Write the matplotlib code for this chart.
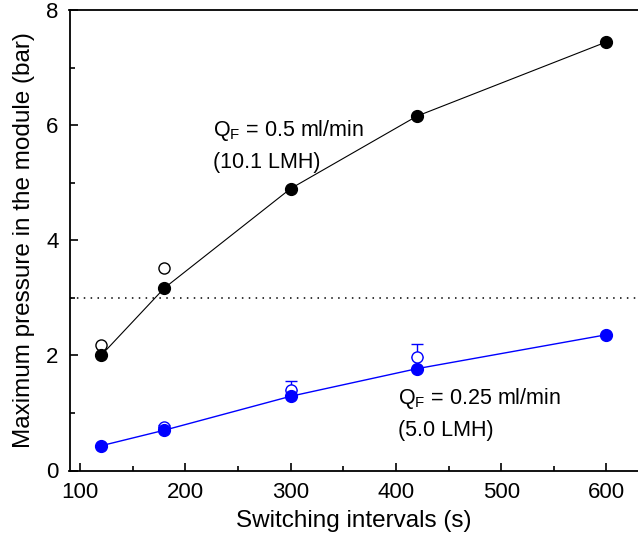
import numpy as np
import matplotlib.pyplot as plt
from matplotlib.ticker import MultipleLocator

plt.rcParams["font.family"] = "Liberation Sans"
plt.rcParams["font.size"] = 16
plt.rcParams["mathtext.fontset"] = "custom"
plt.rcParams["mathtext.rm"] = "Liberation Sans"
plt.rcParams["mathtext.it"] = "Liberation Sans"

# switching intervals (s)
t_int = [120, 180, 300, 420, 600]

# QF = 0.5 ml/min
p_high = [2.00, 3.17, 4.90, 6.16, 7.45]
t_high_open = [120, 180]
p_high_open = [2.18, 3.52]

# QF = 0.25 ml/min
p_low = [0.43, 0.70, 1.29, 1.77, 2.36]
t_low_open = [180, 300, 420]
p_low_open = [0.76, 1.40, 1.97]
err_low_open = [0.03, 0.16, 0.23]

threshold = 3.0

fig = plt.figure(figsize=(6.38, 5.39), dpi=100)
ax = fig.add_axes([69.5 / 638, 68.5 / 539, (638 - 69.5) / 638, (470.5 - 10.3) / 539])

ax.axhline(threshold, color="black", linestyle=(0, (1, 3.5)), linewidth=1.1)

ax.plot(t_int, p_high, "-", color="black", linewidth=0.8, zorder=2)
ax.plot(t_int, p_high, "o", color="black", markersize=8.5, zorder=3)
ax.plot(t_high_open, p_high_open, "o", mfc="white", mec="black",
        mew=1.0, markersize=8, zorder=2)

ax.plot(t_int, p_low, "-", color="blue", linewidth=1.0, zorder=2)
ax.errorbar(t_low_open, p_low_open, yerr=[np.zeros(3), err_low_open],
            fmt="o", mfc="white", mec="blue", ecolor="blue", mew=1.0,
            markersize=8, elinewidth=1.0, capsize=4, capthick=1.0, zorder=2)
ax.plot(t_int, p_low, "o", color="blue", markersize=8.5, zorder=3)

ax.text(226, 6.13, "Q$_\\mathrm{F}$ = 0.5 ml/min\n(10.1 LMH)", fontsize=15.5,
        va="top", ha="left", linespacing=1.55)
ax.text(402, 1.47, "Q$_\\mathrm{F}$ = 0.25 ml/min\n(5.0 LMH)", fontsize=15.5,
        va="top", ha="left", linespacing=1.55)

ax.set_xlim(90, 630)
ax.set_ylim(0, 8)
ax.xaxis.set_major_locator(MultipleLocator(100))
ax.xaxis.set_minor_locator(MultipleLocator(50))
ax.yaxis.set_major_locator(MultipleLocator(2))
ax.yaxis.set_minor_locator(MultipleLocator(1))
ax.tick_params(which="both", direction="in", width=1.2, pad=8)
ax.tick_params(which="major", length=6)
ax.tick_params(which="minor", length=3.5)
ax.spines["right"].set_visible(False)
for s in ["left", "bottom", "top"]:
    ax.spines[s].set_linewidth(1.3)

ax.set_xlabel("Switching intervals (s)", fontsize=17.5, labelpad=5)
ax.set_ylabel("Maximum pressure in the module (bar)", fontsize=17.5, labelpad=8)

fig.savefig("out.png", dpi=100)
